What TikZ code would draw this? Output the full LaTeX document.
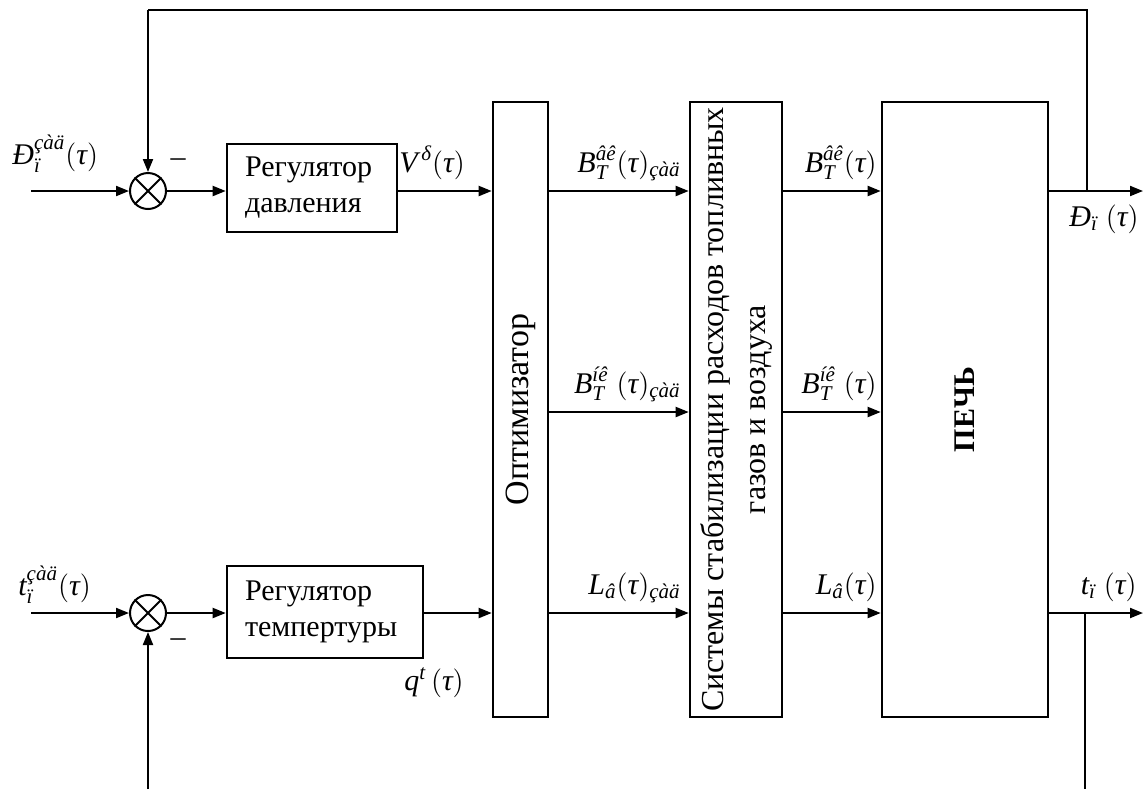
\documentclass[tikz,border=0pt]{standalone}
\usepackage{amsmath}
\usepackage{graphicx}
\usepackage{fontspec}
\setmainfont{Liberation Serif}
\usepackage{tikz}
\usetikzlibrary{positioning, arrows.meta}
\tikzset{
	block/.style={draw, line width=1.3pt, inner sep=0pt},
	sumNode/.style={circle, draw, line width=1pt, minimum size=18pt, inner sep=0pt},
	signal/.style={line width=1pt, -{Triangle[length=6.5pt,width=5pt]}},
	feedback/.style={line width=0.8pt},
	lbl/.style={inner sep=0pt}
}
\newcommand{\mi}[1]{\textit{#1}}

\begin{document}
\begin{tikzpicture}[x=0.5pt, y=-0.5pt, font=\fontsize{15}{18}\selectfont]
\useasboundingbox (0,0) rectangle (1147,789);
\coordinate (rowA) at (0,191);
\coordinate (rowB) at (0,412);
\coordinate (rowC) at (0,613);
\node[sumNode] (sumP) at (148,191) {};
\node[sumNode] (sumT) at (148,613) {};
\foreach \s in {sumP,sumT} {\draw[line width=1pt] (\s.45) -- (\s.225) (\s.135) -- (\s.315);}
\node[block, minimum width=85pt, minimum height=44pt, text width=67pt, align=left] (regP) at (312,188) {Регулятор\\давления};
\node[block, minimum width=98pt, minimum height=46pt, text width=80pt, align=left] (regT) at (325,612) {Регулятор\\темпертуры};
\node[block, minimum width=27.5pt, minimum height=307.5pt, font=\fontsize{17}{20}\selectfont] (opt) at (520.5,409.5) {\rotatebox{90}{Оптимизатор}};
\node[block, minimum width=46pt, minimum height=307.5pt, font=\fontsize{16}{21}\selectfont] (stab) at (736,409.5) {\rotatebox{90}{\begin{tabular}{@{}c@{}}Системы стабилизации расходов топливных\\газов и воздуха\end{tabular}}};
\node[block, minimum width=83pt, minimum height=307.5pt, font=\fontsize{15}{18}\selectfont\bfseries] (pech) at (965,409.5) {\rotatebox{90}{ПЕЧЬ}};
\coordinate (inP) at (31,191);
\coordinate (inT) at (31,613);
\coordinate (outP) at (1143,191);
\coordinate (outT) at (1143,613);
\coordinate (tapP) at (1087,191);
\coordinate (tapT) at (1085,613);
\coordinate (topR) at (1087,10);
\coordinate (topL) at (148,10);
\coordinate (botR) at (1085,789);
\coordinate (botL) at (148,789);
\draw[signal] (inP) -- (sumP);
\draw[signal] (inT) -- (sumT);
\draw[signal] (sumP) -- (regP.west |- sumP);
\draw[signal] (sumT) -- (regT.west |- sumT);
\draw[signal] (regP.east |- sumP) -- (opt.west |- sumP);
\draw[signal] (regT.east |- sumT) -- (opt.west |- sumT);
\foreach \r in {rowA,rowB,rowC} {
  \draw[signal] (opt.east |- \r) -- (stab.west |- \r);
  \draw[signal] (stab.east |- \r) -- (pech.west |- \r);
}
\draw[signal] (pech.east |- rowA) -- (outP);
\draw[signal] (pech.east |- rowC) -- (outT);
\draw[feedback] (tapP) -- (topR) -- (topL);
\draw[signal] (topL) -- (sumP.north);
\draw[feedback] (tapT) -- (botR);
\draw[signal] (botL) -- (sumT.south);
\node[lbl, anchor=base west] (lblInP) at (12,164) {$\mi{Đ}_{\mi{ï}}^{\mi{çàä}}(\mi{τ})$};
\node[lbl, anchor=base west] (lblInT) at (18,595) {$\mi{t}_{\mi{ï}}^{\mi{çàä}}(\mi{τ})$};
\node[lbl] (minusP) at (178,163) {–};
\node[lbl] (minusT) at (178,643) {–};
\node[lbl, anchor=base west] (lblV) at (399,172) {$\mi{V}^{\,\mi{δ}}(\mi{τ})$};
\node[lbl, anchor=base west] (lblQ) at (404,690) {$\mi{q}^{\mi{t}}\,(\mi{τ})$};
\node[lbl, anchor=base east] (lblBvkZ) at (681,172) {$\mi{B}_{\mi{T}}^{\mi{âê}}(\mi{τ})_{\mi{çàä}}$};
\node[lbl, anchor=base east] (lblBnkZ) at (681,393) {$\mi{B}_{\mi{T}}^{\mi{íê}}\;(\mi{τ})_{\mi{çàä}}$};
\node[lbl, anchor=base east] (lblLZ) at (681,594) {$\mi{L}_{\mi{â}}(\mi{τ})_{\mi{çàä}}$};
\node[lbl, anchor=base east] (lblBvk) at (877,172) {$\mi{B}_{\mi{T}}^{\mi{âê}}(\mi{τ})$};
\node[lbl, anchor=base east] (lblBnk) at (877,393) {$\mi{B}_{\mi{T}}^{\mi{íê}}\;(\mi{τ})$};
\node[lbl, anchor=base east] (lblL) at (877,594) {$\mi{L}_{\mi{â}}(\mi{τ})$};
\node[lbl, anchor=base east] (lblOutP) at (1139,226) {$\mi{Đ}_{\mi{ï}}\;(\mi{τ})$};
\node[lbl, anchor=base east] (lblOutT) at (1137,594) {$\mi{t}_{\mi{ï}}\;(\mi{τ})$};
\end{tikzpicture}
\end{document}
